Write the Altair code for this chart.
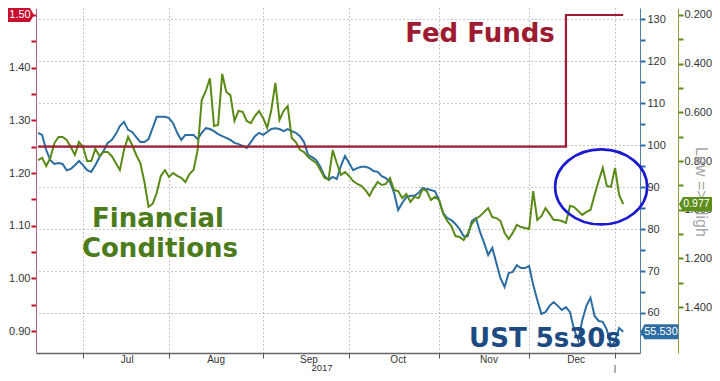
import altair as alt
import pandas as pd

# ---------------- data ----------------
ust_5s30s = [102.9, 102.4, 98.8, 96.4, 95.5, 95.7, 95.5, 94.0, 94.3, 95.2,
             96.2, 95.2, 94.0, 93.6, 95.2, 97.1, 98.6, 100.5, 101.2, 102.6,
             104.5, 105.5, 103.6, 103.1, 101.9, 100.7, 100.7, 101.4, 104.0, 106.7,
             106.7, 106.7, 106.4, 105.2, 102.9, 101.2, 102.4, 102.4, 102.4, 101.4,
             102.9, 104.0, 103.8, 103.3, 102.6, 102.1, 101.7, 101.2, 100.5, 100.2,
             99.8, 99.3, 100.7, 102.1, 102.9, 102.4, 103.1, 103.8, 104.0, 103.8,
             103.3, 103.8, 103.3, 102.9, 102.1, 100.7, 97.6, 97.1, 96.4, 94.8,
             92.6, 91.7, 92.4, 91.9, 95.0, 97.4, 95.7, 94.0, 94.5, 94.8,
             94.8, 94.5, 93.8, 93.6, 92.6, 92.1, 91.2, 88.6, 84.5, 86.2,
             87.6, 87.9, 87.9, 88.6, 89.8, 89.5, 89.3, 89.0, 86.9, 83.8,
             82.6, 82.1, 81.2, 80.0, 78.3, 78.3, 81.9, 82.6, 79.3, 76.7,
             73.8, 75.5, 71.9, 68.3, 66.2, 69.5, 69.8, 71.4, 70.7, 70.7,
             71.2, 66.7, 63.1, 59.8, 60.2, 61.7, 62.6, 61.7, 60.7, 61.4,
             60.2, 56.0, 53.6, 58.3, 61.7, 63.6, 59.3, 58.1, 57.9, 56.0,
             52.1, 53.3, 56.4, 55.53]

fin_conditions = [0.796, 0.787, 0.820, 0.787, 0.726, 0.701, 0.701, 0.713, 0.742, 0.775,
                  0.722, 0.742, 0.800, 0.800, 0.750, 0.779, 0.763, 0.763, 0.779, 0.808,
                  0.837, 0.754, 0.701, 0.734, 0.775, 0.808, 0.886, 0.988, 0.976, 0.931,
                  0.861, 0.837, 0.865, 0.849, 0.861, 0.869, 0.886, 0.853, 0.837, 0.754,
                  0.549, 0.512, 0.460, 0.656, 0.652, 0.442, 0.516, 0.529, 0.635, 0.594,
                  0.598, 0.635, 0.644, 0.615, 0.594, 0.623, 0.664, 0.590, 0.479, 0.631,
                  0.594, 0.574, 0.705, 0.722, 0.754, 0.763, 0.783, 0.796, 0.808, 0.837,
                  0.869, 0.874, 0.755, 0.808, 0.857, 0.845, 0.861, 0.882, 0.894, 0.902,
                  0.919, 0.943, 0.911, 0.886, 0.898, 0.894, 0.869, 0.919, 0.923, 0.952,
                  0.935, 0.968, 0.947, 0.952, 0.915, 0.923, 0.960, 0.947, 0.960, 1.017,
                  1.046, 1.067, 1.108, 1.112, 1.124, 1.099, 1.058, 1.038, 1.026, 1.009,
                  0.993, 1.030, 1.034, 1.046, 1.095, 1.120, 1.095, 1.062, 1.071, 1.075,
                  1.079, 0.923, 1.042, 1.026, 0.993, 1.017, 1.042, 1.042, 1.046, 1.054,
                  0.984, 0.989, 1.005, 1.021, 1.009, 1.001, 0.939, 0.882, 0.828, 0.902,
                  0.906, 0.828, 0.939, 0.977]

fed_idx = [1, 130, 144]
fed_funds = [1.25, 1.50, 1.50]

month_names = ["Jul", "Aug", "Sep", "Oct", "Nov", "Dec"]
month_mid_idx = [22.8, 44.5, 67.2, 89.0, 111.2, 132.5]
month_start_idx = [12, 33, 56, 77, 99, 121, 142]
year_label = ["2017"]
year_idx = [70.4]

last_fed = [1.50]
last_ust = [55.53]
last_fci = [0.977]

fed_ticks = [0.90, 0.95, 1.00, 1.05, 1.10, 1.15, 1.20, 1.25, 1.30, 1.35, 1.40, 1.45, 1.50]
ust_ticks = [55, 60, 65, 70, 75, 80, 85, 90, 95, 100, 105, 110, 115, 120, 125, 130]
fci_ticks = [0.2, 0.3, 0.4, 0.5, 0.6, 0.7, 0.8, 0.9, 1.0, 1.1, 1.2, 1.3, 1.4]

circle_center_idx = [138.6]
circle_center_fci = [0.906]

# ---------------- frames ----------------
df_ust = pd.DataFrame({"i": list(range(1, len(ust_5s30s) + 1)), "v": ust_5s30s})
df_fci = pd.DataFrame({"i": list(range(1, len(fin_conditions) + 1)), "v": fin_conditions})
df_fed = pd.DataFrame({"i": fed_idx, "v": fed_funds})
df_months = pd.DataFrame({"i": month_mid_idx, "m": month_names})
df_year = pd.DataFrame({"i": year_idx, "m": year_label})

W, H = 604, 345
FONT = "Liberation Sans"
BOLD = "DejaVu Sans"

RED = "#9e1b32"
BLUE = "#2b6ca3"
GREEN = "#5a8a16"

xscale = alt.Scale(domain=[0.5, 148.1], nice=False, zero=False)
xaxis = alt.Axis(values=month_start_idx, labels=False, ticks=True, tickSize=5,
                 tickColor="#555555", domainColor="#666666", domainWidth=1.5,
                 grid=True, gridDash=[1, 3], gridColor="#8a8a8a", gridWidth=1, title=None)
X = alt.X("i:Q", scale=xscale, axis=xaxis)

LEFT_TAG_BLUE = "M -1 0 L -0.79 -0.395 L 1 -0.395 L 1 0.395 L -0.79 0.395 Z"
LEFT_TAG_GREEN = "M -1 0 L -0.76 -0.44 L 1 -0.44 L 1 0.44 L -0.76 0.44 Z"
RIGHT_TAG = "M 1 0 L 0.73 -0.467 L -1 -0.467 L -1 0.467 L 0.73 0.467 Z"
ELLIPSE = "M -1 0 A 1 0.815 0 1 1 1 0 A 1 0.815 0 1 1 -1 0 Z"

# ---------------- Fed funds (left axis) ----------------
fed_y = alt.Y("v:Q",
              scale=alt.Scale(domain=[0.8583, 1.5133], nice=False, zero=False),
              axis=alt.Axis(orient="left", values=fed_ticks,
                            labelExpr="(abs(datum.value*10 - round(datum.value*10)) < 0.001 && datum.value < 1.45) ? format(datum.value, '.2f') : ''",
                            tickColor="#c0142c", tickSize=5, tickWidth=2,
                            domainColor="#b8607a", domainWidth=1,
                            labelColor="#333333", labelFont=FONT, labelFontSize=11,
                            labelPadding=1, grid=False, title=None))

fed_line = alt.Chart(df_fed).mark_line(interpolate="step-after", color=RED, strokeWidth=2.2).encode(x=X, y=fed_y)
fed_tag = alt.Chart(pd.DataFrame({"v": last_fed})).mark_point(
    shape=RIGHT_TAG, filled=True, size=900, color="#c8102e", opacity=1).encode(x=alt.value(-17), y=fed_y)
fed_tag_txt = alt.Chart(pd.DataFrame({"v": last_fed})).mark_text(
    color="white", font=FONT, fontSize=11).encode(x=alt.value(-16), y=fed_y, text=alt.Text("v:Q", format=".2f"))

def label(txt, x, y, color, size=26):
    return alt.Chart(pd.DataFrame({"t": [txt]})).mark_text(
        font=BOLD, fontWeight="bold", fontSize=size, color=color, align="center", baseline="middle"
    ).encode(x=alt.value(x), y=alt.value(y), text="t:N")

t_fed = label("Fed Funds", 444, 26, RED)
t_fin1 = label("Financial", 122, 211, "#4b7b1a")
t_fin2 = label("Conditions", 124, 241, "#4b7b1a")
t_ust = label("UST 5s30s", 509, 331, "#1d4a80")

months_txt = alt.Chart(df_months).mark_text(font=FONT, fontSize=10, color="#333333", baseline="middle").encode(
    x=X, y=alt.value(H + 7), text="m:N")
year_txt = alt.Chart(df_year).mark_text(font=FONT, fontSize=9.5, color="#333333", baseline="middle").encode(
    x=X, y=alt.value(H + 15), text="m:N")
now_rule = alt.Chart(pd.DataFrame({"i": [month_start_idx[-1]]})).mark_rule(color="#666666", strokeWidth=1).encode(
    x=X, y=alt.value(H + 12), y2=alt.value(H + 20))

group_fed = alt.layer(fed_line, fed_tag, fed_tag_txt, t_fed, t_fin1, t_fin2, t_ust,
                      months_txt, year_txt, now_rule)

# ---------------- UST 5s30s (right axis) ----------------
ust_y = alt.Y("v:Q",
              scale=alt.Scale(domain=[50.476, 132.62], nice=False, zero=False),
              axis=alt.Axis(orient="right", values=ust_ticks,
                            labelExpr="datum.value % 10 == 0 ? format(datum.value, 'd') : ''",
                            tickColor=BLUE, tickSize=5, tickWidth=2,
                            domainColor="#4f7ea8", domainWidth=1,
                            labelColor="#333333", labelFont=FONT, labelFontSize=11, labelPadding=2,
                            grid=True, gridDash=[1, 3], gridColor="#8a8a8a",
                            gridOpacity={"condition": {"test": "datum.value % 10 != 0", "value": 0}, "value": 1},
                            title=None))
ust_line = alt.Chart(df_ust).mark_line(color=BLUE, strokeWidth=2).encode(x=X, y=ust_y)
ust_tag = alt.Chart(pd.DataFrame({"v": last_ust})).mark_point(
    shape=LEFT_TAG_BLUE, filled=True, size=1444, color="#2f6ea5", opacity=1).encode(x=alt.value(623.5), y=ust_y)
ust_tag_txt = alt.Chart(pd.DataFrame({"v": last_ust})).mark_text(
    color="white", font=FONT, fontSize=11).encode(x=alt.value(625), y=ust_y, text=alt.Text("v:Q", format=".3f"))
group_ust = alt.layer(ust_line, ust_tag, ust_tag_txt)

# ---------------- Financial conditions (far right, inverted) ----------------
fci_y = alt.Y("v:Q",
              scale=alt.Scale(domain=[0.1713, 1.5882], reverse=True, nice=False, zero=False),
              axis=alt.Axis(orient="right", offset=38, values=fci_ticks,
                            labelExpr="(abs(datum.value*5 - round(datum.value*5)) < 0.001) ? format(datum.value, '.3f') : ''",
                            tickColor="#5e8a1c", tickSize=5, tickWidth=2,
                            domainColor="#999a3c", domainWidth=1,
                            labelColor="#333333", labelFont=FONT, labelFontSize=11, labelPadding=1,
                            grid=False, title=None))
fci_line = alt.Chart(df_fci).mark_line(color=GREEN, strokeWidth=2).encode(x=X, y=fci_y)
ellipse = alt.Chart(pd.DataFrame({"i": circle_center_idx, "v": circle_center_fci})).mark_point(
    shape=ELLIPSE, filled=False, size=8464, color="#1a1ad0", strokeWidth=2.6, opacity=1).encode(x=X, y=fci_y)
fci_title = alt.Chart(pd.DataFrame({"t": ["Low => High"]})).mark_text(
    font=FONT, fontSize=16, color="#a6a6a6", angle=90, align="center", baseline="middle").encode(
    x=alt.value(665), y=alt.value(184), text="t:N")
fci_tag = alt.Chart(pd.DataFrame({"v": last_fci})).mark_point(
    shape=LEFT_TAG_GREEN, filled=True, size=1089, color="#5e8e1c", opacity=1).encode(x=alt.value(659.5), y=fci_y)
fci_tag_txt = alt.Chart(pd.DataFrame({"v": last_fci})).mark_text(
    color="white", font=FONT, fontSize=10.5).encode(x=alt.value(660.5), y=fci_y, text=alt.Text("v:Q", format=".3f"))
group_fci = alt.layer(fci_line, ellipse, fci_title, fci_tag, fci_tag_txt)

chart = alt.layer(group_ust, group_fci, group_fed).resolve_scale(y="independent").properties(
    width=W, height=H,
    autosize=alt.AutoSizeParams(type="none"),
    padding={"left": 28, "top": 0, "right": 72, "bottom": 20},
    background="white",
).configure_view(stroke=None)

chart.save("out.html", embed_options={"renderer": "svg", "actions": False})
